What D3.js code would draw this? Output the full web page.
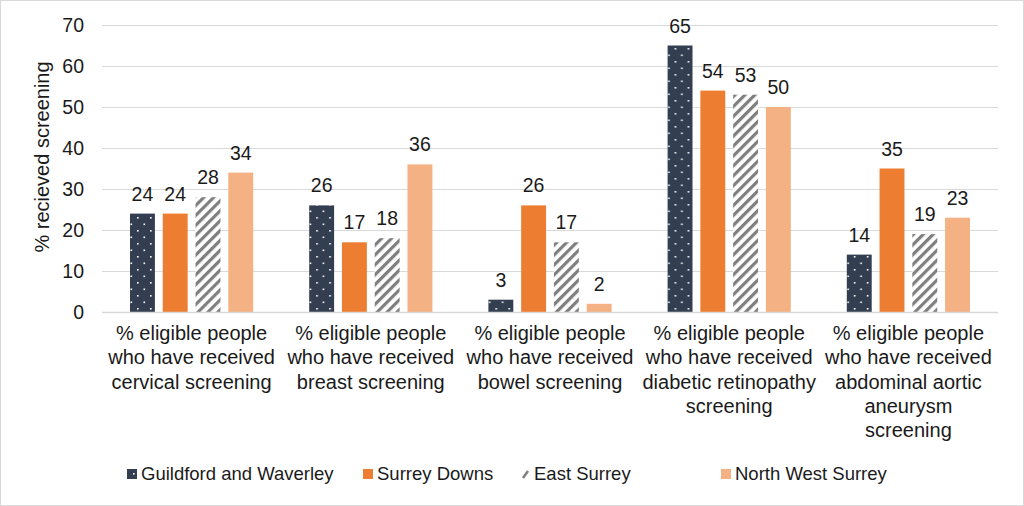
<!DOCTYPE html>
<html>
<head>
<meta charset="utf-8">
<script src="https://d3js.org/d3.v7.min.js"></script>
<style>
  body { margin: 0; background: #fff; }
  svg { font-family: "Liberation Sans", Arial, sans-serif; }
</style>
</head>
<body>
<svg id="viz"></svg>
<script>
// chart data
var categories = [
  "% eligible people who have received cervical screening",
  "% eligible people who have received breast screening",
  "% eligible people who have received bowel screening",
  "% eligible people who have received diabetic retinopathy screening",
  "% eligible people who have received abdominal aortic aneurysm screening"
];
// wrapped lines as they appear under the axis
var categoryLines = [
  ["% eligible people", "who have received", "cervical screening"],
  ["% eligible people", "who have received", "breast screening"],
  ["% eligible people", "who have received", "bowel screening"],
  ["% eligible people", "who have received", "diabetic retinopathy", "screening"],
  ["% eligible people", "who have received", "abdominal aortic", "aneurysm", "screening"]
];
var seriesNames = ["Guildford and Waverley", "Surrey Downs", "East Surrey", "North West Surrey"];
var guildford = [24, 26, 3, 65, 14];
var surreyDowns = [24, 17, 26, 54, 35];
var eastSurrey = [28, 18, 17, 53, 19];
var northWest = [34, 36, 2, 50, 23];
var yTicks = [0, 10, 20, 30, 40, 50, 60, 70];

var series = [guildford, surreyDowns, eastSurrey, northWest];
var fills = ["url(#dots)", "#ED7D31", "url(#stripes)", "#F4B183"];
var textColor = "#1a1a1a";

var width = 1024, height = 506;
var svg = d3.select("#viz").attr("width", width).attr("height", height);

var defs = svg.append("defs");
var dots = defs.append("pattern").attr("id", "dots")
  .attr("patternUnits", "userSpaceOnUse").attr("width", 13).attr("height", 13);
dots.append("rect").attr("width", 13).attr("height", 13).attr("fill", "#333F50");
dots.append("rect").attr("x", 2.5).attr("y", 2.5).attr("width", 1.6).attr("height", 1.6).attr("fill", "#fff");
dots.append("rect").attr("x", 9).attr("y", 9).attr("width", 1.6).attr("height", 1.6).attr("fill", "#fff");

var stripes = defs.append("pattern").attr("id", "stripes")
  .attr("patternUnits", "userSpaceOnUse").attr("width", 7).attr("height", 7)
  .attr("patternTransform", "rotate(45)");
stripes.append("rect").attr("width", 7).attr("height", 7).attr("fill", "#fff");
stripes.append("rect").attr("x", 0).attr("width", 3.2).attr("height", 7).attr("fill", "#7F7F7F");

// outer border
svg.append("rect").attr("x", 0.5).attr("y", 0.5).attr("width", width - 1).attr("height", height - 1)
  .attr("fill", "#fff").attr("stroke", "#D9D9D9");

var x0 = d3.scaleBand().domain(categories).range([102, 998]);
var x1 = d3.scaleBand().domain(d3.range(4)).range([28, x0.bandwidth() - 28]).paddingInner(0.24);
var y = d3.scaleLinear().domain([0, 70]).range([312, 25]);

// gridlines
svg.append("g").selectAll("line").data(yTicks.filter(function(d) { return d > 0; })).enter()
  .append("line")
  .attr("x1", 102).attr("x2", 998)
  .attr("y1", function(d) { return y(d) + 0.5; }).attr("y2", function(d) { return y(d) + 0.5; })
  .attr("stroke", "#D9D9D9").attr("stroke-width", 1);

// y tick labels
svg.append("g").selectAll("text").data(yTicks).enter()
  .append("text")
  .attr("x", 84).attr("y", function(d) { return y(d); })
  .attr("dy", "0.35em").attr("text-anchor", "end")
  .attr("font-size", 19.5).attr("fill", textColor)
  .text(function(d) { return d; });

// y title
svg.append("text")
  .attr("transform", "translate(49,157) rotate(-90)")
  .attr("text-anchor", "middle").attr("font-size", 20).attr("fill", textColor)
  .text("% recieved screening");

// bars
var groups = svg.append("g").selectAll("g").data(categories).enter()
  .append("g").attr("transform", function(d) { return "translate(" + x0(d) + ",0)"; });

groups.each(function(cat, ci) {
  var g = d3.select(this);
  series.forEach(function(s, si) {
    var v = s[ci];
    g.append("rect")
      .attr("x", x1(si)).attr("width", x1.bandwidth())
      .attr("y", y(v)).attr("height", y(0) - y(v))
      .attr("fill", fills[si]);
    g.append("text")
      .attr("x", x1(si) + x1.bandwidth() / 2).attr("y", y(v) - 13)
      .attr("text-anchor", "middle").attr("font-size", 19.5).attr("fill", textColor)
      .text(v);
  });
});

// x axis line
svg.append("line").attr("x1", 102).attr("x2", 998).attr("y1", 312.5).attr("y2", 312.5)
  .attr("stroke", "#D9D9D9").attr("stroke-width", 1.5);

// category labels
categories.forEach(function(cat, ci) {
  var cx = x0(cat) + x0.bandwidth() / 2;
  var t = svg.append("text")
    .attr("text-anchor", "middle").attr("font-size", 20).attr("fill", textColor);
  categoryLines[ci].forEach(function(line, li) {
    t.append("tspan").attr("x", cx).attr("y", 340 + li * 24.3).text(line);
  });
});

// legend
var legendX = [127, 363, 522, 721];
var legend = svg.append("g").selectAll("g").data(seriesNames).enter()
  .append("g").attr("transform", function(d, i) { return "translate(" + legendX[i] + ",474)"; });
legend.each(function(d, i) {
  var g = d3.select(this);
  if (i === 2) {
    // East Surrey swatch shows as a single gray slash
    g.append("line").attr("x1", 1).attr("y1", 4).attr("x2", 6).attr("y2", -3)
      .attr("stroke", "#7F7F7F").attr("stroke-width", 2.5);
  } else {
    g.append("rect").attr("x", 0).attr("y", -5).attr("width", 10).attr("height", 10)
      .attr("fill", i === 0 ? "#333F50" : fills[i]);
    if (i === 0) {
      g.append("rect").attr("x", 6).attr("y", -1).attr("width", 1.6).attr("height", 1.6).attr("fill", "#fff");
    }
  }
});
legend.append("text")
  .attr("x", i => 0).attr("x", function(d, i) { return i === 2 ? 12 : 14; })
  .attr("y", 0).attr("dy", "0.35em")
  .attr("font-size", 18.5).attr("fill", textColor)
  .text(function(d) { return d; });
</script>
</body>
</html>
